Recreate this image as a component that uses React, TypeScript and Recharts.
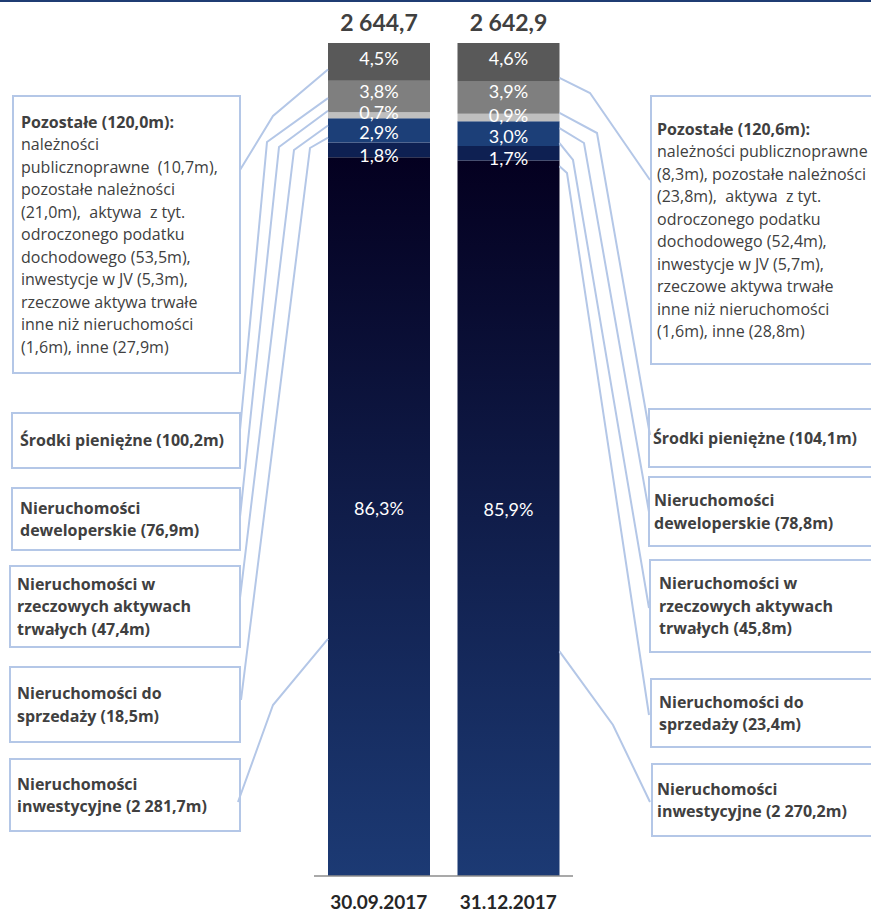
import { BarChart, Bar, XAxis, YAxis } from 'recharts';

const categories = ['30.09.2017', '31.12.2017'];
const totals = [2644.7, 2642.9];
const inwestycyjne = [2281.7, 2270.2];
const rzeczowe = [47.4, 45.8];
const deweloperskie = [76.9, 78.8];
const doSprzedazy = [18.5, 23.4];
const srodki = [100.2, 104.1];
const pozostale = [120.0, 120.6];

const rows = categories.map((name, i) => ({
  name,
  inw: inwestycyjne[i],
  rzecz: rzeczowe[i],
  dew: deweloperskie[i],
  sprz: doSprzedazy[i],
  srodki: srodki[i],
  poz: pozostale[i],
}));

// stack order, bottom to top
const SERIES = [
  { key: 'inw', fill: 'url(#inwGrad)', dy: -9 },
  { key: 'rzecz', fill: '#0e2052', dy: 5 },
  { key: 'dew', fill: '#1c3f78', dy: 2 },
  { key: 'sprz', fill: '#bfbfbf', dy: -3 },
  { key: 'srodki', fill: '#7f7f7f', dy: -6 },
  { key: 'poz', fill: '#595959', dy: -4 },
];

// leader lines: where they leave the bar, bend, and meet the box
const CONNECTORS = [
  [
    { seg: 'poz', f: 0.7, bend: [273, 116], end: [240, 170] },
    { seg: 'srodki', f: 0.55, bend: [267, 142], end: [240, 430] },
    { seg: 'srodki', f: 0.95, bend: [279, 147], end: [240, 517] },
    { seg: 'dew', f: 0.3, bend: [294, 150], end: [240, 598] },
    { seg: 'dew', f: 0.8, bend: [310, 148], end: [241, 700] },
    { seg: 'inw', f: 0.67, bend: [273, 705], end: [238, 802] },
  ],
  [
    { seg: 'poz', f: 0.92, bend: [590, 93], end: [650, 180] },
    { seg: 'srodki', f: 0.97, bend: [597, 133], end: [650, 435] },
    { seg: 'dew', f: 0.28, bend: [584, 143], end: [649, 512] },
    { seg: 'dew', f: 0.88, bend: [573, 160], end: [649, 608] },
    { seg: 'inw', f: 0.008, bend: [567, 173], end: [649, 715] },
    { seg: 'inw', f: 0.686, bend: [613, 725], end: [650, 802] },
  ],
];

const LEFT_BOXES = [
  {
    left: 12, top: 95, height: 279, pad: 7,
    title: ['Pozostałe (120,0m):'],
    body: [
      'należności',
      'publicznoprawne  (10,7m),',
      'pozostałe należności',
      '(21,0m),  aktywa  z tyt.',
      'odroczonego podatku',
      'dochodowego (53,5m),',
      'inwestycje w JV (5,3m),',
      'rzeczowe aktywa trwałe',
      'inne niż nieruchomości',
      '(1,6m), inne (27,9m)',
    ],
  },
  { left: 11, top: 412, height: 57, pad: 7, title: ['Środki pieniężne (100,2m)'], body: [] },
  { left: 11, top: 487, height: 64, pad: 7, title: ['Nieruchomości', 'deweloperskie (76,9m)'], body: [] },
  { left: 9, top: 565, height: 83, pad: 6, title: ['Nieruchomości w', 'rzeczowych aktywach', 'trwałych (47,4m)'], body: [] },
  { left: 9, top: 666, height: 77, pad: 6, title: ['Nieruchomości do', 'sprzedaży (18,5m)'], body: [] },
  { left: 9, top: 758, height: 74, pad: 6, title: ['Nieruchomości', 'inwestycyjne (2 281,7m)'], body: [] },
];

const RIGHT_BOXES = [
  {
    left: 650, top: 95, height: 270, pad: 5,
    title: ['Pozostałe (120,6m):'],
    body: [
      'należności publicznoprawne',
      '(8,3m), pozostałe należności',
      '(23,8m),  aktywa  z tyt.',
      'odroczonego podatku',
      'dochodowego (52,4m),',
      'inwestycje w JV (5,7m),',
      'rzeczowe aktywa trwałe',
      'inne niż nieruchomości',
      '(1,6m), inne (28,8m)',
    ],
  },
  { left: 648, top: 408, height: 60, pad: 3, title: ['Środki pieniężne (104,1m)'], body: [] },
  { left: 648, top: 476, height: 71, pad: 4, title: ['Nieruchomości', 'deweloperskie (78,8m)'], body: [] },
  { left: 649, top: 559, height: 94, pad: 8, title: ['Nieruchomości w', 'rzeczowych aktywach', 'trwałych (45,8m)'], body: [] },
  { left: 650, top: 678, height: 70, pad: 7, title: ['Nieruchomości do', 'sprzedaży (23,4m)'], body: [] },
  { left: 651, top: 763, height: 74, pad: 4, title: ['Nieruchomości', 'inwestycyjne (2 270,2m)'], body: [] },
];

const pct = (v: number) => (Math.round(v * 10) / 10).toFixed(1).replace('.', ',');
const fmtTotal = (n: number) => {
  const [i, d] = n.toFixed(1).split('.');
  return i.replace(/\B(?=(\d{3})+(?!\d))/g, ' ') + ',' + d;
};

// top segment draws last, so it carries all labels and leader lines
function TopShape(props: any) {
  const { x, y, width, height, index, payload } = props;
  const unit = height / payload.poz;
  const sum = SERIES.reduce((a, s) => a + payload[s.key], 0);
  const segs: Record<string, { top: number; h: number }> = {};
  let cur = y;
  [...SERIES].reverse().forEach((s) => {
    const h = payload[s.key] * unit;
    segs[s.key] = { top: cur, h };
    cur += h;
  });
  const edge = index === 0 ? x : x + width;
  const cx = x + width / 2;
  return (
    <g>
      <rect x={x} y={y} width={width} height={height} fill="#595959" />
      {CONNECTORS[index].map((c, i) => {
        const s = segs[c.seg];
        const ay = s.top + s.h * c.f;
        return (
          <polyline
            key={i}
            points={`${edge},${ay} ${c.bend[0]},${c.bend[1]} ${c.end[0]},${c.end[1]}`}
            fill="none"
            stroke="#b4c7e7"
            strokeWidth={2}
          />
        );
      })}
      {SERIES.map((s) => {
        const g = segs[s.key];
        return (
          <text
            key={s.key}
            x={cx}
            y={g.top + g.h / 2 + s.dy}
            textAnchor="middle"
            dominantBaseline="central"
            fill="#ffffff"
            fontSize={18}
          >
            {pct((payload[s.key] / sum) * 100)}%
          </text>
        );
      })}
      <text
        x={cx}
        y={y - 21}
        textAnchor="middle"
        dominantBaseline="central"
        fontWeight="bold"
        fontSize={23}
        fill="#404040"
      >
        {fmtTotal(totals[index])}
      </text>
    </g>
  );
}

function Box({ b, w }: { b: any; w: number }) {
  return (
    <div
      style={{
        position: 'absolute',
        left: b.left,
        top: b.top,
        width: w,
        height: b.height,
        boxSizing: 'border-box',
        border: '2px solid #b4c7e7',
        paddingLeft: b.pad,
        display: 'flex',
        flexDirection: 'column',
        justifyContent: 'center',
        color: '#404040',
        fontFamily: '"Open Sans", sans-serif',
        fontSize: 16,
        lineHeight: '22.5px',
        whiteSpace: 'pre',
        background: '#fff',
      }}
    >
      {b.title.map((t: string) => (
        <div key={t} style={{ fontWeight: 'bold' }}>{t}</div>
      ))}
      {b.body.map((t: string) => (
        <div key={t}>{t}</div>
      ))}
    </div>
  );
}

export default function App() {
  return (
    <div
      style={{
        position: 'absolute',
        left: 0,
        top: 0,
        width: 871,
        height: 912,
        overflow: 'hidden',
        background: '#fff',
        fontFamily: 'Lato, sans-serif',
      }}
    >
      <div style={{ position: 'absolute', left: 0, top: 0, width: 871, height: 2, background: '#1f3c73' }} />
      {LEFT_BOXES.map((b, i) => <Box key={'l' + i} b={b} w={241 - b.left} />)}
      {RIGHT_BOXES.map((b, i) => <Box key={'r' + i} b={b} w={240} />)}
      <div style={{ position: 'absolute', left: 0, top: 0 }}>
        <BarChart
          width={871}
          height={912}
          data={rows}
          stackOffset="expand"
          margin={{ top: 43, right: 298, bottom: 6, left: 314 }}
        >
          <defs>
            <linearGradient id="inwGrad" x1="0" y1="0" x2="0" y2="1">
              <stop offset="0%" stopColor="#040020" />
              <stop offset="100%" stopColor="#1c3a74" />
            </linearGradient>
          </defs>
          <XAxis
            dataKey="name"
            height={30}
            tickLine={false}
            tickMargin={14}
            axisLine={{ stroke: '#8c8c8c', strokeWidth: 1.5 }}
            tick={{ fill: '#262626', fontSize: 19, fontWeight: 'bold' }}
          />
          <YAxis hide domain={[0, 1]} />
          {SERIES.map((s) => (
            <Bar
              key={s.key}
              dataKey={s.key}
              stackId="a"
              fill={s.fill}
              barSize={102}
              isAnimationActive={false}
              shape={s.key === 'poz' ? TopShape : undefined}
            />
          ))}
        </BarChart>
      </div>
    </div>
  );
}
